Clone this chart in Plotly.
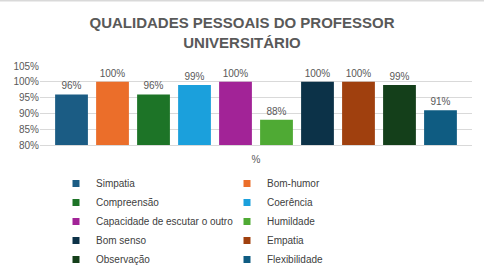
import plotly.graph_objects as go

categories = ["%"]
series_names = ["Simpatia", "Bom-humor", "Compreensão", "Coerência",
                "Capacidade de escutar o outro", "Humildade", "Bom senso",
                "Empatia", "Observação", "Flexibilidade"]
series_values = [0.96, 1.00, 0.96, 0.99, 1.00, 0.88, 1.00, 1.00, 0.99, 0.91]
colors = ["#1B5C84", "#EB6E2A", "#1D7427", "#1BA0DC", "#A22397",
          "#4FAA34", "#0C3248", "#A0400E", "#143F1A", "#0F5C82"]

W, H = 484, 278
ML, MR, MT, MB = 40, 12, 66, 133
PW, PH = W - ML - MR, H - MT - MB

def px_x(p):
    return (p - ML) / PW

def px_y(p):
    return (H - MB - p) / PH

fig = go.Figure()
for i, (name, v, c) in enumerate(zip(series_names, series_values, colors)):
    fig.add_trace(go.Bar(
        x=categories, y=[v], name=name, showlegend=False,
        marker=dict(color=c, line=dict(width=0)),
        text=[f"{v:.0%}"], textposition="outside", cliponaxis=False,
        textfont=dict(family="Liberation Sans", size=10, color="#595959"),
    ))
# legend entries (small square keys like the reference)
for i, (name, c) in enumerate(zip(series_names, colors)):
    fig.add_trace(go.Scatter(
        x=[None], y=[None], mode="markers", name=name,
        legend="legend" if i % 2 == 0 else "legend2",
        marker=dict(symbol="square", size=7, color=c),
    ))

legend_common = dict(orientation="v", xanchor="left", yanchor="top",
                     yref="container", itemwidth=30, tracegroupgap=0,
                     bgcolor="rgba(0,0,0,0)",
                     font=dict(family="Liberation Sans", size=10, color="#404040"))

fig.update_layout(
    width=W, height=H,
    margin=dict(l=ML, r=MR, t=MT, b=MB, autoexpand=False),
    paper_bgcolor="white", plot_bgcolor="white",
    barmode="group", bargap=0.051, bargroupgap=0.2,
    title=dict(text="<b>QUALIDADES PESSOAIS DO PROFESSOR<br>UNIVERSITÁRIO</b>",
               x=0.5, xanchor="center", yref="container", y=1 - 28 / H,
               yanchor="middle",
               font=dict(family="Liberation Sans", size=15, color="#595959")),
    yaxis=dict(range=[0.8, 1.05], dtick=0.05, tickformat=".0%",
               showgrid=True, gridcolor="#D9D9D9", gridwidth=1,
               zeroline=False, showline=False, ticks="",
               tickfont=dict(family="Liberation Sans", size=10, color="#595959")),
    xaxis=dict(showline=True, linecolor="#D9D9D9", ticks="", ticklabelstandoff=5,
               tickfont=dict(family="Liberation Sans", size=10, color="#595959")),
    legend=dict(x=px_x(56), y=1 - 169 / H, **legend_common),
    legend2=dict(x=px_x(227), y=1 - 169 / H, **legend_common),
    showlegend=True,
)
fig.add_shape(type="line", xref="paper", yref="paper",
              x0=px_x(0), x1=px_x(W), y0=px_y(0.5), y1=px_y(0.5),
              line=dict(color="#D9D9D9", width=2))
fig.write_html("out.html")
